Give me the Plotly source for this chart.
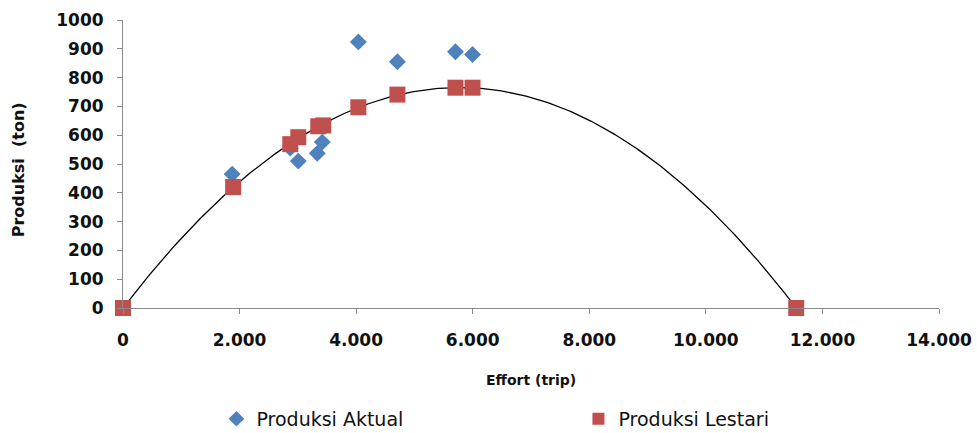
import numpy as np
import plotly.graph_objects as go

# Data
effort_aktual = [1873, 2870, 3007, 3333, 3419, 4038, 4708, 5704, 5997]
produksi_aktual = [465, 555, 510, 537, 576, 924, 855, 890, 880]

effort_lestari = [0, 1890, 2870, 3007, 3350, 3436, 4038, 4708, 5704, 5997, 11550]
produksi_lestari = [0, 420, 569, 593, 631, 634, 697, 741, 765, 765, 0]

x_ticks = [0, 2000, 4000, 6000, 8000, 10000, 12000, 14000]
y_ticks = [0, 100, 200, 300, 400, 500, 600, 700, 800, 900, 1000]

# Polynomial (order 2) trendline through the "Produksi Lestari" points
coef = np.polyfit(effort_lestari, produksi_lestari, 2)
xs = np.linspace(0, max(effort_lestari), 300)
ys = np.polyval(coef, xs)

FONT = "DejaVu Sans"
TXT = "#111111"
AX = "#8a8a8a"

fig = go.Figure()
fig.add_trace(go.Scatter(x=xs, y=ys, mode="lines", line=dict(color="black", width=1.3),
                         showlegend=False, hoverinfo="skip", cliponaxis=False))
fig.add_trace(go.Scatter(x=effort_aktual, y=produksi_aktual, mode="markers",
                         name="Produksi Aktual", cliponaxis=False,
                         marker=dict(symbol="diamond", size=13, color="#4F81BD",
                                     line=dict(width=0))))
fig.add_trace(go.Scatter(x=effort_lestari, y=produksi_lestari, mode="markers",
                         name="Produksi Lestari", cliponaxis=False,
                         marker=dict(symbol="square", size=16, color="#C0504D",
                                     line=dict(width=0))))

fig.update_layout(
    width=977, height=433,
    margin=dict(l=123, r=38, t=20, b=125, autoexpand=False),
    paper_bgcolor="white", plot_bgcolor="white",
    separators=",.",
    font=dict(family=FONT, size=14, color=TXT),
    legend=dict(orientation="h", x=0.1145, xanchor="left", y=-0.385, yanchor="middle",
                entrywidth=317, entrywidthmode="pixels",
                font=dict(family=FONT, size=19, color=TXT), itemsizing="constant"),
    xaxis=dict(range=[0, 14000], tickvals=x_ticks, tickformat=",d",
               showgrid=False, zeroline=False, showline=True, linecolor=AX,
               linewidth=1, ticks="outside", ticklen=5, tickcolor=AX,
               ticklabelstandoff=12,
               tickfont=dict(family=FONT, size=17, color=TXT, weight="bold")),
    yaxis=dict(range=[0, 1000], tickvals=y_ticks, tickformat="d",
               showgrid=False, zeroline=False, showline=True, linecolor=AX,
               linewidth=1, ticks="outside", ticklen=5, tickcolor=AX,
               ticklabelstandoff=10,
               tickfont=dict(family=FONT, size=17, color=TXT, weight="bold")),
    annotations=[
        dict(text="<b>Effort (trip)</b>", xref="paper", yref="paper", x=0.5, y=-0.25,
             xanchor="center", yanchor="middle", showarrow=False,
             font=dict(family=FONT, size=14, color=TXT)),
        dict(text="<b>Produksi  (ton)</b>", xref="paper", yref="paper", x=-0.128, y=0.48,
             xanchor="center", yanchor="middle", showarrow=False, textangle=-90,
             font=dict(family=FONT, size=16, color=TXT)),
    ],
)

fig.write_html("out.html")
